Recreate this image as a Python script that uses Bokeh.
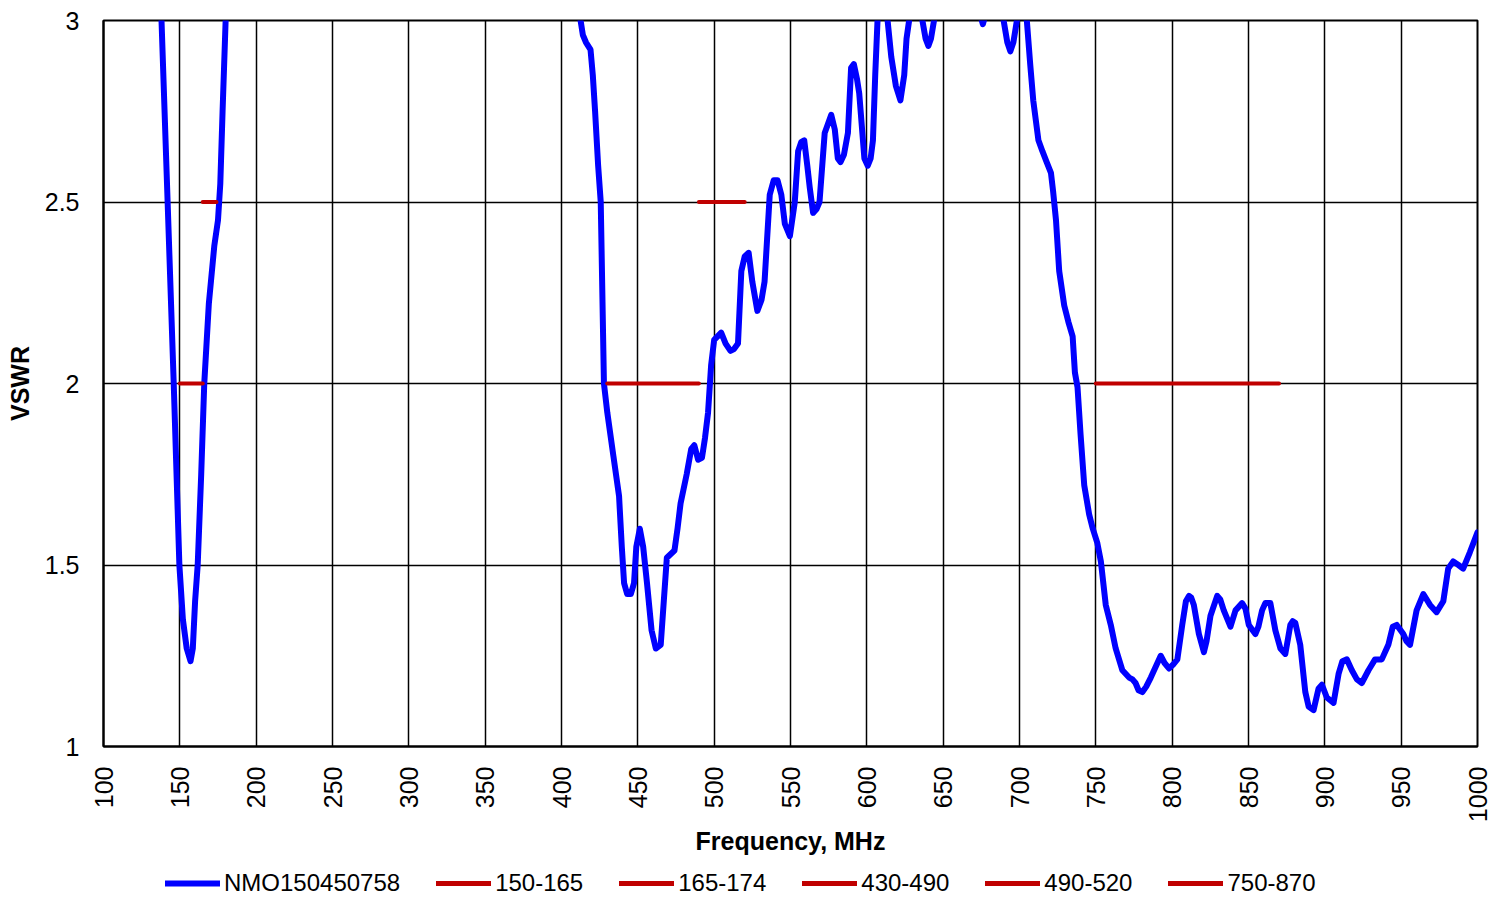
import numpy as np
from bokeh.plotting import figure
from bokeh.layouts import column
from bokeh.models import Range1d, FixedTicker, Legend, LegendItem
from bokeh.embed import file_html
from bokeh.resources import INLINE

# Measured VSWR curve (values above 3 are off-scale, clipped by the axis range)
freq = [134, 138, 142, 146, 149.7, 152, 154.5, 157, 158.5, 160, 161.7, 164, 166, 169, 172.6, 175, 176.5, 178, 180, 183,
        409, 412.5, 414, 416, 419, 420.5, 422, 424, 425.7, 427.8, 430, 434, 437.7, 439.5, 441, 443, 445.4, 447.5, 449,
        451.3, 453.5, 456, 459, 461.8, 465, 467, 469, 474, 476, 478, 482, 485, 487, 489.5, 492, 494, 496, 498, 500,
        504.6, 507.5, 510.7, 513, 515.6, 517.8, 520, 522.6, 525, 528.3, 531, 533, 536.4, 539, 541.5, 544, 546.3, 549.6,
        552.8, 555, 557, 559, 561, 562.6, 564.8, 567, 569, 572.4, 576.7, 579, 581, 582.8, 585, 587.6, 589.7, 591.5,
        593.5, 595, 598.4, 600.6, 602.5, 604, 605.5, 607, 610, 613.6, 616, 619, 622, 624.5, 626, 627.7, 632, 636.4,
        638.5, 640.3, 642, 644, 650, 670, 674, 676, 678, 684, 689.6, 692, 694, 696, 698.3, 701.5, 704.8, 707, 709,
        712.4, 715, 717.8, 720.6, 722, 723.9, 726, 729.3, 732, 734.8, 736.3, 738, 740, 742.4, 745.6, 748, 751, 753.3,
        756.5, 759.8, 763, 767.4, 771.8, 774, 776, 778, 780.5, 783, 786, 792.5, 795, 797.9, 800.5, 803.4, 806.6, 809,
        811, 812.5, 814.2, 817.5, 820.8, 822.5, 825.1, 829.5, 831.5, 833.8, 838.2, 841.5, 845.8, 848, 850.2, 854.5,
        856.5, 858.9, 861, 864.3, 867.6, 870.9, 874.1, 876, 877.4, 879, 880.7, 883.9, 887.2, 889.4, 892.6, 895.9,
        898.1, 901.3, 905.7, 909, 911.5, 914.4, 917.7, 921, 924.2, 928.6, 932.9, 937.3, 941.6, 944.5, 947.1, 951.4,
        953.5, 955.8, 960.1, 964.5, 968.9, 973.2, 977.6, 980.8, 984.1, 987.5, 990.6, 995, 1000]
vswr = [3.5, 3.0, 2.5, 2.0, 1.5, 1.35, 1.27, 1.235, 1.27, 1.4, 1.5, 1.75, 2.0, 2.22, 2.38, 2.45, 2.55, 2.75, 3.0, 3.5,
        3.5, 3.0, 2.96, 2.94, 2.92, 2.85, 2.75, 2.6, 2.5, 2.0, 1.92, 1.8, 1.69, 1.55, 1.45, 1.42, 1.42, 1.45, 1.55,
        1.6, 1.55, 1.45, 1.32, 1.27, 1.28, 1.4, 1.52, 1.54, 1.6, 1.67, 1.75, 1.82, 1.83, 1.79, 1.795, 1.85, 1.92, 2.05, 2.12,
        2.14, 2.11, 2.09, 2.095, 2.11, 2.31, 2.35, 2.36, 2.28, 2.2, 2.23, 2.28, 2.52, 2.56, 2.56, 2.52, 2.44, 2.406,
        2.5, 2.64, 2.665, 2.67, 2.6, 2.54, 2.47, 2.48, 2.5, 2.69, 2.74, 2.7, 2.62, 2.61, 2.63, 2.69, 2.87, 2.88,
        2.84, 2.8, 2.62, 2.6, 2.62, 2.67, 2.85, 3.0, 3.15, 3.0, 2.9, 2.82, 2.78, 2.85, 2.95, 3.0, 3.12, 3.0,
        2.95, 2.93, 2.95, 3.0, 3.15, 3.1, 3.02, 2.99, 3.02, 3.1, 3.0, 2.94, 2.915, 2.94, 3.0, 3.06, 3.0, 2.88, 2.78,
        2.67, 2.64, 2.61, 2.58, 2.53, 2.45, 2.31, 2.215, 2.17, 2.13, 2.03, 1.99, 1.86, 1.72, 1.64, 1.6, 1.56, 1.51,
        1.39, 1.335, 1.27, 1.21, 1.19, 1.185, 1.175, 1.155, 1.15, 1.165, 1.19, 1.25, 1.23, 1.215, 1.225, 1.24, 1.335, 1.4,
        1.415, 1.41, 1.39, 1.31, 1.26, 1.29, 1.36, 1.415, 1.405, 1.375, 1.33, 1.375, 1.395, 1.38, 1.335, 1.31,
        1.33, 1.375, 1.395, 1.395, 1.32, 1.27, 1.255, 1.3, 1.335, 1.345, 1.34, 1.28, 1.15, 1.11, 1.1, 1.16,
        1.17, 1.135, 1.12, 1.2, 1.235, 1.24, 1.21, 1.185, 1.175, 1.21, 1.24, 1.24, 1.28, 1.33, 1.335, 1.31,
        1.29, 1.28, 1.375, 1.42, 1.39, 1.37, 1.4, 1.49, 1.51, 1.5, 1.49, 1.535, 1.59]

# Band limit lines
bands = [
    ("150-165", [150, 165], [2.0, 2.0]),
    ("165-174", [165, 174], [2.5, 2.5]),
    ("430-490", [430, 490], [2.0, 2.0]),
    ("490-520", [490, 520], [2.5, 2.5]),
    ("750-870", [750, 870], [2.0, 2.0]),
]
series_name = "NMO150450758"
x_ticks = list(range(100, 1001, 50))
y_ticks = [1, 1.5, 2, 2.5, 3]

FONT = "Liberation Sans"
BLUE = "#0000FF"
RED = "#C00000"

p = figure(width=1506, height=858, output_backend="svg", toolbar_location=None,
           x_range=Range1d(100, 1000), y_range=Range1d(1, 3),
           min_border_left=103, min_border_right=29, min_border_top=20, min_border_bottom=112,
           background_fill_color="white", border_fill_color="white")

p.outline_line_color = "black"
p.outline_line_width = 2

for ax in (p.xaxis[0], p.yaxis[0]):
    ax.major_tick_in = 0
    ax.major_tick_out = 0
    ax.minor_tick_in = 0
    ax.minor_tick_out = 0
    ax.axis_line_color = "black"
    ax.axis_line_width = 2
    ax.major_label_text_font = FONT
    ax.major_label_text_font_size = "25px"
    ax.major_label_text_color = "black"
    ax.axis_label_text_font = FONT
    ax.axis_label_text_font_size = "25px"
    ax.axis_label_text_font_style = "bold"
    ax.axis_label_text_color = "black"

p.xaxis.ticker = FixedTicker(ticks=x_ticks)
p.yaxis.ticker = FixedTicker(ticks=y_ticks)
p.yaxis.major_label_overrides = {1: "1", 1.5: "1.5", 2: "2", 2.5: "2.5", 3: "3"}
p.xaxis.major_label_orientation = np.pi / 2
p.xaxis.major_label_standoff = 20
p.yaxis.major_label_standoff = 24
p.xaxis.axis_label = "Frequency, MHz"
p.yaxis.axis_label = "VSWR"
p.xaxis.axis_label_standoff = 2
p.yaxis.axis_label_standoff = 8

for g in (p.xgrid[0], p.ygrid[0]):
    g.grid_line_color = "black"
    g.grid_line_width = 1.5

p.line(freq, vswr, line_color=BLUE, line_width=6, line_join="round", line_cap="round")
for name, bx, by in bands:
    p.line(bx, by, line_color=RED, line_width=4, line_cap="round")

# Legend strip below the chart (its ranges keep the data out of view; only the legend shows)
lg = figure(width=1506, height=42, output_backend="svg", toolbar_location=None,
            x_range=Range1d(0, 1), y_range=Range1d(0, 1),
            x_axis_location=None, y_axis_location=None,
            min_border_left=0, min_border_right=0, min_border_top=0, min_border_bottom=0,
            background_fill_color="white", border_fill_color="white")
lg.grid.visible = False
lg.outline_line_color = None

items = []
r_main = lg.line(freq, vswr, line_color=BLUE, line_width=6, line_cap="round")
items.append(LegendItem(label=series_name, renderers=[r_main]))
for name, bx, by in bands:
    r = lg.line(bx, by, line_color=RED, line_width=5, line_cap="round")
    items.append(LegendItem(label=name, renderers=[r]))

legend = Legend(items=items, orientation="horizontal", location=(62, 3),
                glyph_width=55, glyph_height=20, label_height=20, label_standoff=4, spacing=36,
                padding=0, margin=0, border_line_color=None, background_fill_alpha=0,
                label_text_font=FONT, label_text_font_size="24px", label_text_color="black")
lg.add_layout(legend, "center")

layout = column(p, lg, spacing=0)
open("out.html", "w").write(file_html(layout, INLINE))
